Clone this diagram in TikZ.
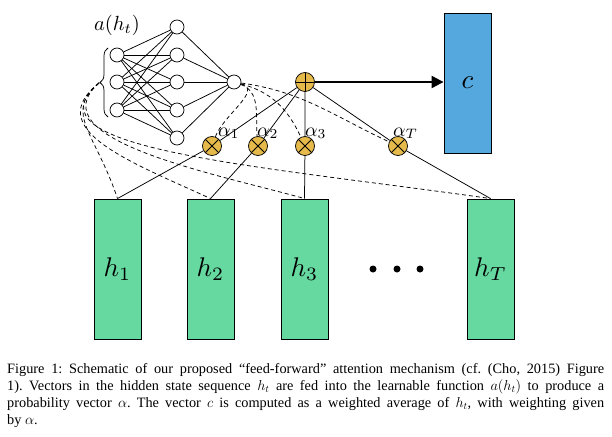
\documentclass[tikz,border=0pt]{standalone}
\usepackage{fontspec}
\setmainfont{Liberation Serif}
\usetikzlibrary{arrows.meta,decorations.pathreplacing}
\definecolor{gold}{RGB}{230,185,75}
\definecolor{hgreen}{RGB}{102,217,160}
\definecolor{cblue}{RGB}{85,168,222}
\newcommand\mylbl[2]{\scalebox{#1}{$#2$}}
\pgfdeclarelayer{bg}
\pgfsetlayers{bg,main}
\begin{document}
\begin{tikzpicture}[x=1pt,y=1pt,
  neuron/.style={circle,draw,fill=white,minimum size=14pt,inner sep=0pt,line width=0.75pt},
  op/.style={circle,draw,fill=gold,minimum size=19pt,inner sep=0pt,line width=0.75pt},
  opplus/.style={op,path picture={
      \draw[line width=0.75pt] (path picture bounding box.center) ++(0,10) -- ++(0,-20);
      \draw[line width=0.75pt] (path picture bounding box.center) ++(-10,0) -- ++(20,0);}},
  optimes/.style={op,path picture={
      \draw[line width=0.75pt] (path picture bounding box.center) ++(45:10) -- ++(225:20);
      \draw[line width=0.75pt] (path picture bounding box.center) ++(135:10) -- ++(315:20);}},
  hbox/.style={draw,fill=hgreen,minimum width=47pt,minimum height=140pt,inner sep=0pt,line width=0.9pt},
  cbox/.style={hbox,fill=cblue},
  link/.style={line width=0.75pt},
  att/.style={line width=0.75pt,dash pattern=on 4pt off 3pt},
  lbl/.style={inner sep=0pt},
  dot/.style={circle,fill=black,inner sep=0pt,minimum size=7pt}
]
\useasboundingbox (0,0) rectangle (612,-436);

% network
\foreach \i/\y in {1/-55,2/-82,3/-110} \node[neuron] (i\i) at (117,\y) {};
\foreach \j/\y in {1/-27,2/-55,3/-82,4/-110,5/-138} \node[neuron] (n\j) at (177,\y) {};
\node[neuron] (o) at (234,-82) {};
\node[lbl] (alab) at (117,-25) {\mylbl{2.05}{a(h_t)}};
\draw[decorate,decoration={brace,amplitude=8pt},line width=0.75pt] (108,-117) -- (108,-48);
\coordinate (bt) at (99,-83);

% boxes
\node[hbox] (h1) at (117.5,-269) {\mylbl{2.7}{h_1}};
\node[hbox] (h2) at (210.5,-269) {\mylbl{2.7}{h_2}};
\node[hbox] (h3) at (304.5,-269) {\mylbl{2.7}{h_3}};
\node[hbox] (hT) at (490.5,-269) {\mylbl{2.7}{h_T}};
\node[cbox] (c) at (467.5,-83) {\mylbl{2.7}{c}};
\node[dot] (d1) at (373,-269) {};
\node[dot] (d2) at (397,-269) {};
\node[dot] (d3) at (420,-269) {};

% operators
\node[opplus] (p) at (305,-82) {};
\node[optimes] (a1) at (212,-146) {};
\node[optimes] (a2) at (258,-146) {};
\node[optimes] (a3) at (305,-146) {};
\node[optimes] (aT) at (398,-146) {};
\node[lbl,anchor=base west] (l1) at (218,-136) {\mylbl{1.95}{\alpha_1}};
\node[lbl,anchor=base west] (l2) at (257,-136) {\mylbl{1.95}{\alpha_2}};
\node[lbl,anchor=base west] (l3) at (305,-136) {\mylbl{1.95}{\alpha_3}};
\node[lbl,anchor=base west] (lT) at (393,-136) {\mylbl{1.95}{\alpha_T}};

\begin{pgfonlayer}{bg}
\foreach \i in {1,2,3} \foreach \j in {1,...,5} \draw[link] (i\i) -- (n\j);
\foreach \j in {1,...,5} \draw[link] (n\j) -- (o);
\draw[link] (h1.north) -- (a1) -- (p);
\draw[link] (h2.north) -- (a2) -- (p);
\draw[link] (h3.north) -- (a3) -- (p);
\draw[link] (hT.north) -- (aT) -- (p);
\draw[att] (bt) .. controls +(-36,-30) and +(-22,66) .. (h1.north);
\draw[att] (bt) .. controls +(-58,-46) and +(-80.5,37) .. (h2.north);
\draw[att] (bt) .. controls +(-64,-57) and +(-85,24) .. (h3.north);
\draw[att] (bt) .. controls +(-78,-66) and +(-240,34) .. (hT.north);
\draw[att] (o) to[out=-15,in=70] (a1);
\draw[att] (o) to[out=-20,in=95] (a2);
\draw[att] (o) to[out=-15,in=115] (a3);
\draw[att] (o) to[out=-8,in=155] (aT);
\end{pgfonlayer}
\draw[line width=2.2pt,-{Triangle[length=12pt,width=12pt]}] (p) -- (p -| c.west);

% caption
\node[anchor=north west,text width=597pt,inner sep=0pt,align=justify,font=\fontsize{14.3}{17.2}\selectfont\frenchspacing] (cap) at (7,-363)
{Figure 1: Schematic of our proposed ``feed-forward'' attention mechanism (cf. (Cho, 2015) Figure\linebreak
1). Vectors in the hidden state sequence $h_t$ are fed into the learnable function $a(h_t)$ to produce a\linebreak
probability vector $\alpha$. The vector $c$ is computed as a weighted average of $h_t$, with weighting given\linebreak
by $\alpha$.};
\end{tikzpicture}
\end{document}
